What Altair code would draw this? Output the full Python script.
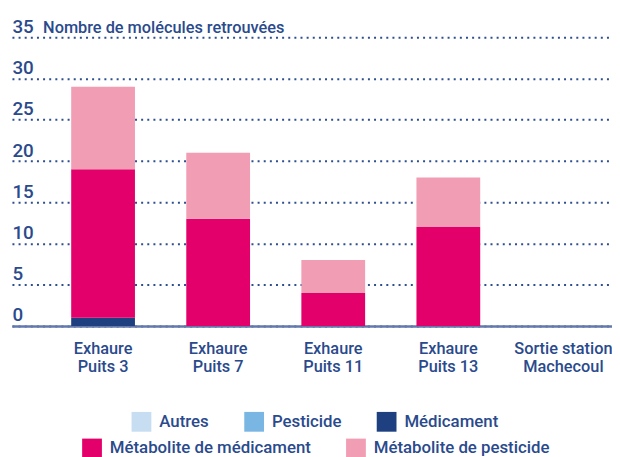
import altair as alt
import pandas as pd

FONT = "Roboto"
TXT = "#2a4a8c"

sites = ["Exhaure\nPuits 3", "Exhaure\nPuits 7", "Exhaure\nPuits 11",
         "Exhaure\nPuits 13", "Sortie station\nMachecoul"]
categories = ["Autres", "Pesticide", "Médicament",
              "Métabolite de médicament", "Métabolite de pesticide"]
colors = ["#c6ddf2", "#7ab6e4", "#1e3f80", "#e4006a", "#f19db4"]

autres = [0, 0, 0, 0, 0]
pesticide = [0, 0, 0, 0, 0]
medicament = [1, 0, 0, 0, 0]
meta_med = [18, 13, 4, 12, 0]
meta_pest = [10, 8, 4, 6, 0]
y_ticks = [0, 5, 10, 15, 20, 25, 30, 35]

series = [autres, pesticide, medicament, meta_med, meta_pest]
rows = []
for ci, (cat, vals) in enumerate(zip(categories, series)):
    for s, v in zip(sites, vals):
        rows.append({"site": s, "category": cat, "value": v, "order": ci})
df = pd.DataFrame(rows)

cats1, cols1 = categories[:3], colors[:3]
cats2, cols2 = categories[3:], colors[3:]

x_enc = alt.X(
    "site:N",
    sort=sites,
    scale=alt.Scale(domain=sites, paddingInner=0.446, paddingOuter=0.33, align=0.78),
    axis=alt.Axis(title=None, domain=True, domainColor="#6379ad", domainWidth=2.5,
                  ticks=False, grid=False, labelAngle=0, labelFont=FONT,
                  labelFontSize=16.5, labelFontWeight=500, labelColor=TXT,
                  labelLineHeight=18, labelPadding=15, labelLimit=200,
                  labelExpr="split(datum.label, '\\n')"),
)
y_enc = alt.Y(
    "y0:Q",
    scale=alt.Scale(domain=[0, 35], nice=False),
    axis=alt.Axis(values=y_ticks, grid=True, gridDash=[2, 4.2], gridWidth=2,
                  gridColor="#2d4f8f", domain=False, ticks=False,
                  labelAlign="left", labelBaseline="alphabetic", labelPadding=0,
                  labelOffset=-5, labelFont=FONT, labelFontSize=19,
                  labelFontWeight=500, labelColor=TXT,
                  title="Nombre de molécules retrouvées", titleAngle=0,
                  titleAlign="left", titleBaseline="alphabetic", titleX=31,
                  titleY=-5, titleFont=FONT, titleFontSize=16.5,
                  titleFontWeight=500, titleColor=TXT),
)

def legend(x, y):
    return alt.Legend(title=None, orient="none", legendX=x, legendY=y,
                      direction="horizontal", symbolType="square", symbolSize=400,
                      symbolStrokeWidth=0, symbolOpacity=1, labelFont=FONT,
                      labelFontSize=17, labelFontWeight=500, labelColor=TXT,
                      labelOffset=8, columnPadding=35, padding=0, labelLimit=300)

base = alt.Chart(df).transform_filter("datum.value > 0").transform_stack(
    stack="value", groupby=["site"], as_=["y0", "y1"],
    sort=[alt.SortField("order", order="ascending")],
)

layer1 = base.transform_filter(
    alt.FieldOneOfPredicate(field="category", oneOf=cats1)
).mark_bar().encode(
    x=x_enc, y=y_enc, y2="y1:Q",
    color=alt.Color("category:N", scale=alt.Scale(domain=cats1, range=cols1),
                    legend=legend(121, 379)),
)
layer2 = base.transform_filter(
    alt.FieldOneOfPredicate(field="category", oneOf=cats2)
).mark_bar().encode(
    x=x_enc, y=y_enc, y2="y1:Q",
    color=alt.Color("category:N", scale=alt.Scale(domain=cats2, range=cols2),
                    legend=legend(71, 406)),
)

chart = alt.layer(layer1, layer2).resolve_scale(color="independent").properties(
    width=607, height=292,
    autosize=alt.AutoSizeParams(type="none"),
    padding={"left": 4, "top": 27, "right": 0, "bottom": 130},
).configure_view(stroke=None)

chart.save("out.html", embed_options={"renderer": "svg", "actions": False})
